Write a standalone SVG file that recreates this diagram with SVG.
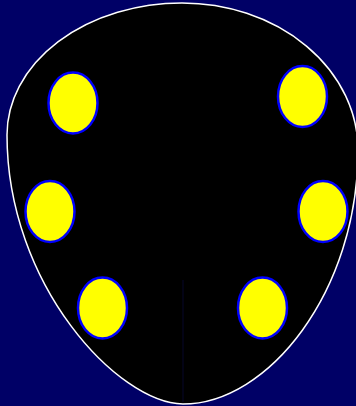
<svg xmlns="http://www.w3.org/2000/svg" width="356" height="406" viewBox="0 0 356 406">
  <style>
    .egg { fill: #000000; stroke: #ffffff; stroke-width: 1.5; }
    .seam { stroke: #07072a; stroke-width: 1; fill: none; }
    .spot { fill: #ffff00; stroke: #0000ff; stroke-width: 2.5; }
  </style>
  <rect x="0" y="0" width="356" height="406" fill="#000066"/>
  <g id="head">
    <path class="egg" d="M 7,135 A 175 132 0 0 1 182,3 A 176 147 0 0 1 358,150 C 358,292 268,404 183,404 C 118,403 7,285 7,135 Z"/>
    <line class="seam" x1="183" y1="280" x2="183" y2="402"/>
  </g>
  <g id="spot-top-left"><ellipse class="spot" cx="73" cy="103" rx="24.5" ry="30.5"/></g>
  <g id="spot-top-right"><ellipse class="spot" cx="302.5" cy="96.5" rx="24.5" ry="30.5"/></g>
  <g id="spot-mid-left"><ellipse class="spot" cx="50" cy="211.5" rx="24.5" ry="30.5"/></g>
  <g id="spot-mid-right"><ellipse class="spot" cx="323" cy="211.5" rx="24.5" ry="30.5"/></g>
  <g id="spot-bottom-left"><ellipse class="spot" cx="102.5" cy="308" rx="24.5" ry="30.5"/></g>
  <g id="spot-bottom-right"><ellipse class="spot" cx="262.5" cy="308" rx="24.5" ry="30.5"/></g>
  <g id="connectors"></g>
</svg>
